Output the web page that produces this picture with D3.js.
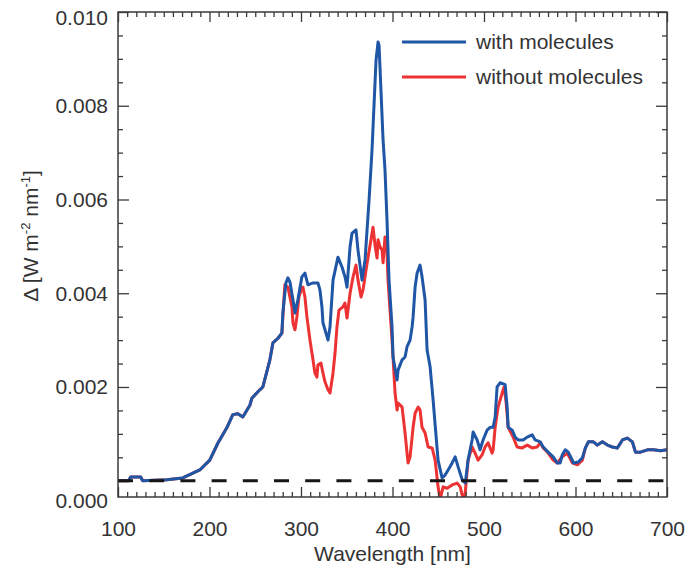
<!DOCTYPE html>
<html>
<head>
<meta charset="utf-8">
<script src="https://cdn.jsdelivr.net/npm/d3@7"></script>
<style>
  html, body { margin: 0; padding: 0; background: #fff; }
  svg { display: block; font-family: "Liberation Sans", Arial, Helvetica, sans-serif; }
</style>
</head>
<body>
<svg id="chart" width="699" height="568"></svg>
<script>
// Spectral difference with and without molecules (W m^-2 nm^-1)
const wavelengthWith = [
  100, 111.7, 113.9, 124.8, 127.0, 153.3, 170.8, 189.4, 200.3, 209.1,
  218.9, 225.5, 231.0, 236.4, 244.1, 246.3, 249.6, 255.0, 258.3, 266.0,
  269.3, 274.8, 279.1, 280.2, 283.5, 285.7, 287.9, 291.2, 293.4, 296.6,
  301.0, 304.3, 307.6, 313.1, 318.5, 320.7, 322.9, 324.0, 329.5, 331.7,
  335.0, 340.4, 344.8, 348.1, 350.3, 353.6, 355.8, 360.1, 362.3, 366.7,
  370.0, 372.2, 374.4, 377.6, 382.0, 384.2, 385.3, 389.7, 391.8, 394.0,
  396.2, 399.5, 400.6, 405.0, 406.1, 410.5, 413.7, 415.9, 419.2, 421.4,
  422.5, 424.7, 426.9, 430.1, 432.3, 435.6, 437.8, 441.1, 444.4, 446.6,
  449.8, 454.2, 457.5, 460.8, 465.2, 468.5, 471.8, 476.2, 479.5, 482.6,
  487.0, 488.1, 492.5, 495.7, 499.0, 503.4, 506.7, 510.0, 512.2, 514.3,
  517.6, 523.1, 525.3, 526.4, 530.8, 534.0, 537.3, 542.8, 547.2, 552.6,
  555.9, 561.4, 564.7, 570.1, 575.6, 580.0, 583.3, 585.5, 588.8, 592.1,
  596.5, 597.6, 603.1, 607.5, 610.8, 614.1, 619.5, 623.9, 629.4, 634.9,
  640.3, 645.8, 651.3, 656.7, 662.2, 665.5, 671.0, 678.6, 685.2, 692.9,
  700
];
const deltaWith = [
  0, 0, 0.00008, 0.00008, 0, 0.00002, 0.00006, 0.00023, 0.00044, 0.0008,
  0.00113, 0.00141, 0.00143, 0.00136, 0.00161, 0.00176, 0.00183, 0.00194, 0.002, 0.00258,
  0.00294, 0.00304, 0.00315, 0.00358, 0.00422, 0.00433, 0.00424, 0.00386, 0.00358, 0.00386,
  0.00435, 0.00443, 0.00418, 0.00422, 0.00422, 0.00407, 0.00371, 0.00337, 0.003, 0.00328,
  0.00428, 0.00477, 0.00456, 0.00435, 0.00413, 0.00499, 0.00528, 0.00535, 0.00492, 0.00428,
  0.00471, 0.00535, 0.00599, 0.00705, 0.00897, 0.00936, 0.00929, 0.00727, 0.00663, 0.00556,
  0.00428, 0.00328, 0.00264, 0.00215, 0.00236, 0.00258, 0.00264, 0.00286, 0.003, 0.00328,
  0.00349, 0.00413, 0.00443, 0.0046, 0.00435, 0.00386, 0.00279, 0.00243, 0.00172, 0.00119,
  0.00044, 0.00006, 0.00012, 0.00023, 0.00038, 0.00051, 0.00029, 0.00002, -0.00005, 0.00044,
  0.00087, 0.00104, 0.00087, 0.00066, 0.00087, 0.00108, 0.00114, 0.00114, 0.00136, 0.002,
  0.00209, 0.00205, 0.00157, 0.00114, 0.00108, 0.00093, 0.00087, 0.00087, 0.00093, 0.00098,
  0.00087, 0.00083, 0.00072, 0.00061, 0.00051, 0.00038, 0.00038, 0.00055, 0.00066, 0.00061,
  0.00044, 0.00038, 0.0004, 0.00049, 0.0007, 0.00083, 0.00083, 0.00076, 0.00083, 0.00076,
  0.00072, 0.0007, 0.00087, 0.00091, 0.00083, 0.00061, 0.00061, 0.00066, 0.00066, 0.00064,
  0.00066
];

const wavelengthWithout = [
  100, 111.7, 113.9, 124.8, 127.0, 153.3, 170.8, 189.4, 200.3, 209.1,
  218.9, 225.5, 231.0, 236.4, 244.1, 246.3, 249.6, 255.0, 258.3, 266.0,
  269.3, 274.8, 279.1, 281.3, 282.4, 285.7, 290.1, 291.2, 293.4, 295.5,
  297.7, 301.0, 302.1, 304.3, 306.5, 309.8, 313.1, 315.2, 317.4, 318.5,
  321.8, 324.0, 326.2, 329.5, 331.7, 335.0, 337.2, 339.3, 341.5, 345.9,
  348.1, 350.3, 353.6, 356.9, 360.1, 362.3, 365.6, 367.8, 371.1, 373.3,
  376.5, 378.7, 380.9, 383.1, 384.2, 386.4, 388.6, 389.7, 391.8, 394.0,
  395.1, 397.3, 399.5, 401.7, 402.8, 405.0, 406.1, 410.5, 413.7, 415.9,
  417.0, 419.2, 422.5, 424.7, 428.0, 430.1, 432.3, 435.6, 438.9, 443.3,
  446.6, 449.8, 452.0, 455.3, 459.7, 465.2, 470.7, 474.0, 477.3, 479.5,
  482.6, 487.0, 490.3, 493.6, 497.9, 501.2, 504.5, 508.9, 510.0, 512.2,
  515.4, 519.8, 522.0, 524.2, 526.4, 531.9, 536.2, 541.7, 547.2, 552.6,
  558.1, 561.4, 564.7, 570.1, 575.6, 580.0, 585.5, 591.0, 596.5, 602.0,
  607.5, 610.8, 614.1, 619.5, 623.9, 629.4, 634.9, 640.3, 645.8, 651.3,
  656.7, 662.2, 665.5, 671.0, 678.6, 685.2, 692.9, 700
];
const deltaWithout = [
  0, 0, 0.00008, 0.00008, 0, 0.00002, 0.00006, 0.00023, 0.00044, 0.0008,
  0.00113, 0.00141, 0.00143, 0.00136, 0.00161, 0.00176, 0.00183, 0.00194, 0.002, 0.00258,
  0.00294, 0.00304, 0.00315, 0.00386, 0.00418, 0.00413, 0.00371, 0.00337, 0.00322, 0.00349,
  0.00392, 0.00411, 0.00413, 0.00392, 0.00349, 0.003, 0.00258, 0.0023, 0.00221, 0.00247,
  0.00251, 0.0023, 0.00211, 0.00194, 0.00187, 0.0023, 0.00273, 0.00328, 0.00364, 0.00371,
  0.00379, 0.00347, 0.004, 0.00435, 0.0046, 0.00428, 0.00392, 0.00407, 0.0045, 0.00477,
  0.00514, 0.00541, 0.00503, 0.00475, 0.00514, 0.00499, 0.00492, 0.00465, 0.0052, 0.00486,
  0.00428, 0.00364, 0.003, 0.00225, 0.00187, 0.00151, 0.00166, 0.00157, 0.00102, 0.00059,
  0.00038, 0.00051, 0.00114, 0.00144, 0.00157, 0.00151, 0.00114, 0.00102, 0.00072, 0.0007,
  0.00044, -0.00013, -0.0004, -0.00013, -0.00016, -0.00009, -0.00005, -0.00013, -0.0004, -0.00026,
  0.00044, 0.00072, 0.00059, 0.00044, 0.00055, 0.00072, 0.00081, 0.00059, 0.00066, 0.00114,
  0.00157, 0.00187, 0.002, 0.00166, 0.00114, 0.00093, 0.00072, 0.0007, 0.00076, 0.0007,
  0.00072, 0.00081, 0.0007, 0.00059, 0.00044, 0.00038, 0.00051, 0.00059, 0.00038, 0.00034,
  0.00044, 0.0007, 0.00083, 0.00083, 0.00076, 0.00083, 0.00076, 0.00072, 0.0007, 0.00087,
  0.00091, 0.00083, 0.00061, 0.00061, 0.00066, 0.00066, 0.00064, 0.00066
];

const xTickValues = [100, 200, 300, 400, 500, 600, 700];
const yTickValues = [0.000, 0.002, 0.004, 0.006, 0.008, 0.010];
const yTickLabels = ["0.000", "0.002", "0.004", "0.006", "0.008", "0.010"];
const seriesNames = ["with molecules", "without molecules"];

// ---- layout ----
const plot = { left: 118, right: 667, top: 12, bottom: 497 };
const yFloor = -0.000347;       // the frame extends a little below zero
const blue = "#1f56a6", red = "#ec3232", ink = "#333333", frame = "#3a3a3a";
const fontSize = 21;

const x = d3.scaleLinear().domain([100, 700]).range([plot.left, plot.right]);
const y = d3.scaleLinear().domain([yFloor, 0.010]).range([plot.bottom, plot.top]);

const svg = d3.select("#chart");

svg.append("defs").append("clipPath").attr("id", "plot-area")
  .append("rect")
  .attr("x", plot.left).attr("y", plot.top)
  .attr("width", plot.right - plot.left).attr("height", plot.bottom - plot.top);

// ---- curves ----
const zip = (xs, ys) => xs.map((v, i) => [v, ys[i]]);
const line = d3.line().x(d => x(d[0])).y(d => y(d[1]));
const curves = svg.append("g").attr("clip-path", "url(#plot-area)");

curves.append("path")
  .datum(zip(wavelengthWithout, deltaWithout))
  .attr("d", line).attr("fill", "none")
  .attr("stroke", red).attr("stroke-width", 3)
  .attr("stroke-linejoin", "round");

curves.append("path")
  .datum(zip(wavelengthWith, deltaWith))
  .attr("d", line).attr("fill", "none")
  .attr("stroke", blue).attr("stroke-width", 3)
  .attr("stroke-linejoin", "round");

// zero level
curves.append("line")
  .attr("x1", x(100)).attr("x2", x(700))
  .attr("y1", y(0)).attr("y2", y(0))
  .attr("stroke", "#161616").attr("stroke-width", 3)
  .attr("stroke-dasharray", "15 16.2");

// ---- axes: inward ticks on all four sides ----
const xMinor = d3.range(110, 700, 10).filter(v => v % 100 !== 0);
const yMinor = d3.range(0, 0.0100001, 0.0005).filter(v => Math.round(v * 10000) % 20 !== 0);
const yMajor = yTickValues.filter(v => v > 0);

function styleAxis(g) {
  g.select(".domain").remove();
  g.selectAll(".tick line").attr("stroke", frame).attr("stroke-width", 1.3);
  g.selectAll(".tick text").attr("fill", ink).attr("font-size", fontSize)
    .attr("font-family", "Liberation Sans, Arial, sans-serif");
}

// bottom
svg.append("g").attr("transform", `translate(0,${plot.bottom})`)
  .call(d3.axisBottom(x).tickValues(xMinor).tickSize(-5).tickFormat(""))
  .call(styleAxis);
svg.append("g").attr("transform", `translate(0,${plot.bottom})`)
  .call(d3.axisBottom(x).tickValues(xTickValues).tickSize(-10).tickPadding(24).tickFormat(d3.format("d")))
  .call(styleAxis);
// top
svg.append("g").attr("transform", `translate(0,${plot.top})`)
  .call(d3.axisTop(x).tickValues(xMinor).tickSize(-5).tickFormat(""))
  .call(styleAxis);
svg.append("g").attr("transform", `translate(0,${plot.top})`)
  .call(d3.axisTop(x).tickValues(xTickValues).tickSize(-10).tickFormat(""))
  .call(styleAxis);
// left
svg.append("g").attr("transform", `translate(${plot.left},0)`)
  .call(d3.axisLeft(y).tickValues(yMinor).tickSize(-5).tickFormat(""))
  .call(styleAxis);
svg.append("g").attr("transform", `translate(${plot.left},0)`)
  .call(d3.axisLeft(y).tickValues(yMajor).tickSize(-11).tickFormat(""))
  .call(styleAxis);
// right
svg.append("g").attr("transform", `translate(${plot.right},0)`)
  .call(d3.axisRight(y).tickValues(yMinor).tickSize(-5).tickFormat(""))
  .call(styleAxis);
svg.append("g").attr("transform", `translate(${plot.right},0)`)
  .call(d3.axisRight(y).tickValues(yMajor).tickSize(-11).tickFormat(""))
  .call(styleAxis);

// y tick labels: the zero label sits on the floor of the frame
const yLabelScale = v => (v === 0 ? y(yFloor) + 4 : v === 0.010 ? y(v) + 6 : y(v));
svg.append("g").selectAll("text")
  .data(yTickValues)
  .join("text")
  .attr("x", plot.left - 10)
  .attr("y", d => yLabelScale(d))
  .attr("dy", "0.35em")
  .attr("text-anchor", "end")
  .attr("fill", ink).attr("font-size", fontSize)
  .text((d, i) => yTickLabels[i]);

// frame
svg.append("rect")
  .attr("x", plot.left).attr("y", plot.top)
  .attr("width", plot.right - plot.left).attr("height", plot.bottom - plot.top)
  .attr("fill", "none").attr("stroke", frame).attr("stroke-width", 1.5);

// axis titles
svg.append("text")
  .attr("x", (plot.left + plot.right) / 2).attr("y", 561)
  .attr("text-anchor", "middle")
  .attr("fill", ink).attr("font-size", fontSize)
  .text("Wavelength [nm]");

const yTitle = svg.append("text")
  .attr("transform", "translate(38,236) rotate(-90)")
  .attr("text-anchor", "middle")
  .attr("fill", ink).attr("font-size", fontSize);
yTitle.append("tspan").text("Δ [W m");
yTitle.append("tspan").attr("dy", -8).attr("font-size", 13).text("-2");
yTitle.append("tspan").attr("dy", 8).text(" nm");
yTitle.append("tspan").attr("dy", -8).attr("font-size", 13).text("-1");
yTitle.append("tspan").attr("dy", 8).text("]");

// legend
const legend = svg.append("g");
const legendRows = [
  { name: seriesNames[0], color: blue, y: 42 },
  { name: seriesNames[1], color: red, y: 77 }
];
legendRows.forEach(r => {
  legend.append("line")
    .attr("x1", 402).attr("x2", 466).attr("y1", r.y).attr("y2", r.y)
    .attr("stroke", r.color).attr("stroke-width", 3);
  legend.append("text")
    .attr("x", 476).attr("y", r.y).attr("dy", "0.35em")
    .attr("fill", ink).attr("font-size", fontSize)
    .text(r.name);
});
</script>
</body>
</html>
